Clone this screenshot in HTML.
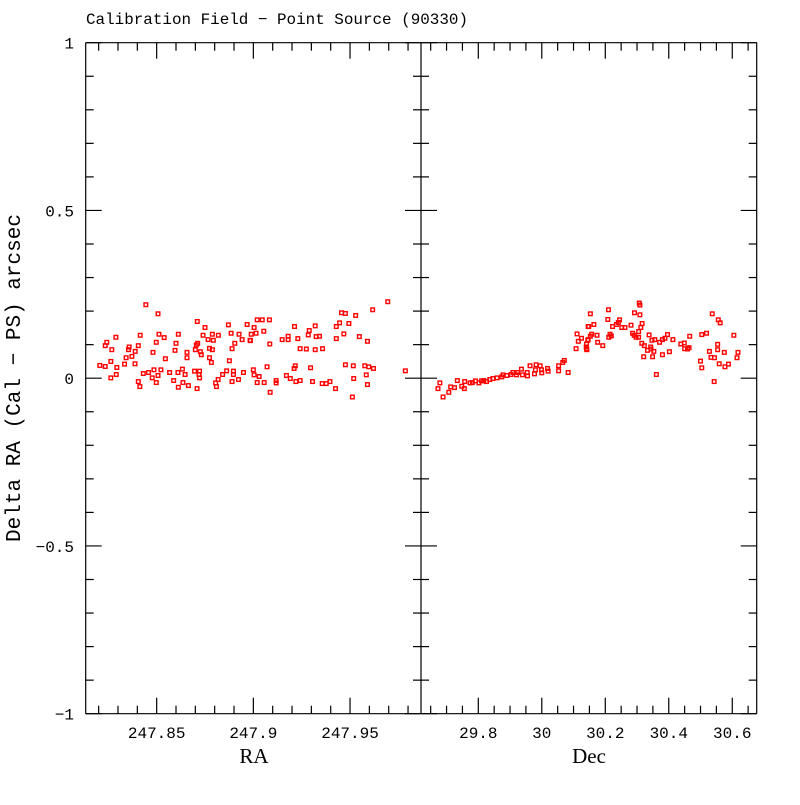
<!DOCTYPE html>
<html><head><meta charset="utf-8"><style>
html,body{margin:0;padding:0;background:#fff;}
svg text{font-family:"Liberation Mono","DejaVu Sans Mono",monospace;fill:#000;}
svg text.serif{font-family:"Liberation Serif","DejaVu Serif",serif;}
</style></head><body>
<svg id="chart" width="800" height="800" viewBox="0 0 800 800" xmlns="http://www.w3.org/2000/svg">
<rect x="0" y="0" width="800" height="800" fill="#fff"/>
<text x="86" y="24" font-size="16" textLength="382" lengthAdjust="spacingAndGlyphs">Calibration Field − Point Source (90330)</text>
<text transform="translate(20,378) rotate(-90)" text-anchor="middle" font-size="21" textLength="328" lengthAdjust="spacingAndGlyphs">Delta RA (Cal − PS) arcsec</text>
<text class="serif" x="254" y="763" text-anchor="middle" font-size="21">RA</text>
<text class="serif" x="589" y="763" text-anchor="middle" font-size="21">Dec</text>
<g id="axes"></g>
<g id="marks"></g>
</svg>
<script>
const raValues=[247.8444,247.8507,247.8710,247.8871,247.8968,247.8750,247.8289,247.8415,247.8512,247.8539,247.8612,247.8740,247.8788,247.8819,247.8885,247.8926,247.8989,247.8766,247.8793,247.8942,247.8983,247.8242,247.8234,247.8358,247.8405,247.8498,247.8600,247.8712,247.8705,247.8904,247.8268,247.8354,247.8389,247.8481,247.8595,247.8657,247.8700,247.8726,247.8773,247.8788,247.8890,247.8372,247.8342,247.8545,247.8657,247.8731,247.8773,247.8876,247.8783,247.8206,247.8234,247.8263,247.8294,247.8334,247.8388,247.8431,247.8458,247.8486,247.8522,247.8507,247.8567,247.8610,247.8633,247.8647,247.8696,247.8722,247.8719,247.8722,247.8841,247.8862,247.8897,247.8897,247.8949,247.9000,247.8291,247.8263,247.8477,247.8588,247.8636,247.8405,247.8498,247.8818,247.8805,247.8890,247.8923,247.8413,247.8612,247.8664,247.8709,247.8809,
247.9695,247.9617,247.9456,247.9476,247.9529,247.9494,247.9446,247.9429,247.9320,247.9020,247.9046,247.9083,247.9004,247.9213,247.9289,247.9014,247.9054,247.9468,247.9548,247.9325,247.9342,247.9284,247.9180,247.9180,247.9149,247.9230,247.9429,247.9590,247.8985,247.9085,247.9242,247.9274,247.9320,247.9358,247.9476,247.9517,247.9576,247.9597,247.9621,247.9217,247.9211,247.9296,247.9071,247.9004,247.9030,247.9584,247.9519,247.9786,247.9171,247.9191,247.9242,247.9220,247.9306,247.9118,247.9118,247.9020,247.9056,247.9356,247.9377,247.9396,247.9590,247.9425,247.9087,247.9512];
const raDelta=[0.219,0.192,0.169,0.159,0.160,0.151,0.122,0.128,0.131,0.121,0.131,0.128,0.131,0.128,0.134,0.131,0.131,0.115,0.113,0.115,0.113,0.107,0.097,0.093,0.097,0.107,0.104,0.104,0.099,0.104,0.085,0.085,0.080,0.077,0.083,0.077,0.085,0.079,0.089,0.085,0.088,0.065,0.061,0.058,0.061,0.070,0.061,0.052,0.047,0.038,0.035,0.050,0.032,0.042,0.043,0.014,0.017,0.025,0.025,0.008,0.017,0.017,0.027,0.011,0.021,0.021,0.011,0.001,0.011,0.022,0.021,0.011,0.017,0.025,0.011,0.001,0.001,-0.007,-0.013,-0.010,-0.013,-0.004,-0.014,-0.010,-0.004,-0.025,-0.027,-0.022,-0.031,-0.025,
0.228,0.204,0.195,0.193,0.187,0.163,0.165,0.154,0.156,0.174,0.174,0.174,0.151,0.154,0.142,0.134,0.140,0.132,0.124,0.124,0.125,0.129,0.125,0.115,0.115,0.118,0.118,0.110,0.112,0.102,0.088,0.087,0.085,0.088,0.040,0.037,0.037,0.034,0.029,0.037,0.029,0.031,0.034,0.010,0.005,0.010,-0.001,0.022,0.008,-0.001,-0.007,-0.010,-0.010,-0.007,-0.014,-0.013,-0.013,-0.016,-0.016,-0.010,-0.019,-0.031,-0.042,-0.056];
const decValues=[29.673,29.679,29.689,29.707,29.713,29.725,29.734,29.748,29.756,29.757,29.774,29.781,29.791,29.802,29.810,29.817,29.826,29.836,29.846,29.859,29.874,29.878,29.890,29.903,29.909,29.920,29.924,29.936,29.939,29.954,29.955,29.963,29.977,29.980,29.982,29.995,29.999,30.000,30.018,30.020,30.053,30.053,30.066,30.071,30.083,30.108,30.111,30.115,30.125,30.140,30.142,30.146,30.146,30.153,
30.210,30.307,30.309,30.309,30.292,30.208,30.245,30.241,30.235,30.223,30.164,30.148,30.252,30.262,30.281,30.316,30.312,30.305,30.286,30.157,30.153,30.174,30.215,30.211,30.219,30.297,30.291,30.305,30.338,30.145,30.141,30.141,30.176,30.192,30.315,30.323,30.347,30.356,30.371,30.380,30.388,30.396,30.413,30.343,30.333,30.353,30.344,30.402,30.380,30.349,30.321,30.361,30.438,30.449,30.450,30.459,30.464,30.466,30.504,30.519,30.537,30.556,30.562,30.605,30.554,30.554,30.528,30.575,30.618,30.615,30.533,30.544,30.500,30.559,30.588,30.577,30.504,30.543];
const decDelta=[-0.031,-0.014,-0.056,-0.042,-0.026,-0.028,-0.007,-0.024,-0.031,-0.010,-0.014,-0.013,-0.008,-0.014,-0.008,-0.007,-0.010,-0.004,-0.001,0.001,0.004,0.010,0.008,0.011,0.017,0.010,0.017,0.027,0.010,0.017,0.007,0.037,0.013,0.025,0.040,0.037,0.025,0.016,0.029,0.021,0.037,0.022,0.047,0.053,0.017,0.088,0.132,0.110,0.119,0.093,0.085,0.154,0.115,0.192,
0.204,0.224,0.218,0.189,0.195,0.175,0.174,0.166,0.160,0.154,0.160,0.154,0.151,0.151,0.158,0.163,0.151,0.139,0.134,0.131,0.125,0.128,0.131,0.122,0.126,0.122,0.128,0.122,0.129,0.113,0.102,0.087,0.107,0.097,0.104,0.097,0.113,0.115,0.107,0.115,0.119,0.130,0.115,0.093,0.083,0.080,0.087,0.079,0.070,0.064,0.064,0.011,0.102,0.105,0.088,0.087,0.091,0.125,0.130,0.134,0.192,0.174,0.165,0.128,0.101,0.085,0.080,0.077,0.077,0.061,0.062,0.061,0.051,0.043,0.042,0.034,0.031,-0.010];
const yTickLabels=["1","0.5","0","−0.5","−1"];
const yTickValues=[1,0.5,0,-0.5,-1];
const raTickValues=[247.85,247.9,247.95];
const raTickLabels=["247.85","247.9","247.95"];
const decTickValues=[29.8,30,30.2,30.4,30.6];
const decTickLabels=["29.8","30","30.2","30.4","30.6"];

const NS="http://www.w3.org/2000/svg";
const TOP=42.7,BOT=713.7,L1=85.7,R1=421,L2=421,R2=756.7;
const RA_MIN=247.8133,RA_MAX=247.9867,DEC_MIN=29.6195,DEC_MAX=30.677;
function yS(v){return TOP+(1-v)/2*(BOT-TOP);}
function raS(v){return L1+(v-RA_MIN)/(RA_MAX-RA_MIN)*(R1-L1);}
function decS(v){return L2+(v-DEC_MIN)/(DEC_MAX-DEC_MIN)*(R2-L2);}
const axes=document.getElementById('axes'),marks=document.getElementById('marks');
function mk(tag,attrs,parent){const e=document.createElementNS(NS,tag);for(const k in attrs)e.setAttribute(k,attrs[k]);parent.appendChild(e);return e;}
function line(x1,y1,x2,y2,name){const e=mk('line',{x1:x1,y1:y1,x2:x2,y2:y2,stroke:'#000','stroke-width':1.2},axes);

return e;}
line(L1,TOP,R2,TOP,'top-frame');line(L1,BOT,R2,BOT,'bottom-frame');
line(L1,TOP,L1,BOT,'left-frame');line(R1,TOP,R1,BOT,'panel-divider');line(R2,TOP,R2,BOT,'right-frame');
for(let i=-10;i<=10;i++){const v=i/10,y=yS(v),len=(i%5===0)?16:8;
 line(L1,y,L1+len,y,'y-tick');line(R1-len,y,R1+len,y,'y-tick');line(R2-len,y,R2,y,'y-tick');}
yTickValues.forEach((v,i)=>{const t=mk('text',{x:74,y:yS(v)+6,'text-anchor':'end','font-size':16},axes);t.textContent=yTickLabels[i];

});
for(let k=2;k<=18;k++){const v=247.8+k*0.01;const x=raS(v);if(x<L1||x>R1)continue;const major=(k%5===0);const len=major?16:8;
 line(x,BOT,x,BOT-len,'ra-tick');line(x,TOP,x,TOP+len,'ra-tick');}
raTickValues.forEach((v,i)=>{const t=mk('text',{x:raS(v),y:738,'text-anchor':'middle','font-size':16},axes);t.textContent=raTickLabels[i];

});
for(let k=-8;k<=14;k++){const v=30+k*0.05;const x=decS(v);if(x<L2+1||x>R2-0.5)continue;const major=(k%4===0);const len=major?16:8;
 line(x,BOT,x,BOT-len,'dec-tick');line(x,TOP,x,TOP+len,'dec-tick');}
decTickValues.forEach((v,i)=>{const t=mk('text',{x:decS(v),y:738,'text-anchor':'middle','font-size':16},axes);t.textContent=decTickLabels[i];

});
function pt(x,y,name){const r=mk('rect',{x:x-1.8,y:y-1.8,width:3.6,height:3.6,fill:'none',stroke:'#ff0000','stroke-width':1.4},marks);

}
raValues.forEach((v,i)=>pt(raS(v),yS(raDelta[i]),'ra-point'));
decValues.forEach((v,i)=>pt(decS(v),yS(decDelta[i]),'dec-point'));
</script>
</body></html>
